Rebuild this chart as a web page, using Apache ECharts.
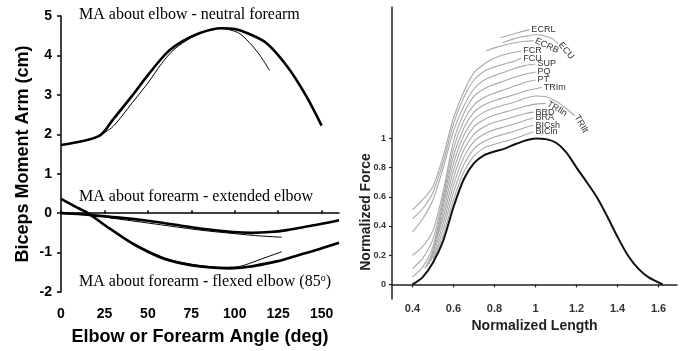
<!DOCTYPE html>
<html><head><meta charset="utf-8">
<script src="https://cdn.jsdelivr.net/npm/echarts@6/dist/echarts.min.js"></script>
<style>html,body{margin:0;padding:0;background:#fff}#c{width:686px;height:351px}</style>
</head><body><div id="c"></div>
<script>
// ---------- Left panel: biceps moment arm ----------
const angleTicks = [0, 25, 50, 75, 100, 125, 150];
const elbowThick = [[0,1.73],[22,1.96],[30,2.38],[41,2.98],[50,3.5],[61,4.07],[70,4.36],[80,4.57],[92,4.69],[100,4.67],[107,4.57],[118,4.32],[130,3.73],[141,2.98],[150,2.22]];
const elbowThin = [[22,1.96],[30,2.2],[41,2.8],[50,3.3],[58,3.8],[65,4.15],[75,4.45],[85,4.65],[91,4.69],[97,4.65],[103,4.55],[110,4.25],[115,3.97],[120,3.62]];
const extThick = [[0,0],[10,-0.02],[22,-0.07],[35,-0.12],[51,-0.2],[65,-0.29],[80,-0.39],[99,-0.48],[110,-0.5],[120,-0.48],[130,-0.43],[140,-0.35],[150,-0.27],[160,-0.18]];
const extThin = [[28,-0.12],[50,-0.25],[80,-0.43],[100,-0.52],[115,-0.58],[127,-0.61]];
const flexThick = [[0,0.36],[8,0.17],[15.5,0],[25,-0.3],[41,-0.77],[50,-0.98],[60,-1.17],[70,-1.28],[80,-1.35],[90,-1.39],[97,-1.4],[108,-1.36],[118,-1.28],[128,-1.18],[137,-1.06],[148,-0.92],[160,-0.75]];
const flexThin = [[28,-0.36],[41,-0.74],[60,-1.14],[80,-1.33],[95,-1.37],[103,-1.35],[110,-1.25],[118,-1.12],[127,-0.98]];

// ---------- Right panel: normalized force-length ----------
const lengthTicks = [0.4, 0.6, 0.8, 1, 1.2, 1.4, 1.6];
const forceTicks = [0, 0.2, 0.4, 0.6, 0.8, 1];
const activeCurve = [[0.4,0],[0.45,0.05],[0.5,0.15],[0.55,0.3],[0.6,0.53],[0.65,0.72],[0.7,0.83],[0.75,0.885],[0.8,0.91],[0.85,0.93],[0.9,0.96],[0.95,0.985],[1.0,1.0],[1.05,0.995],[1.1,0.97],[1.15,0.905],[1.2,0.8],[1.25,0.7],[1.3,0.595],[1.35,0.465],[1.4,0.325],[1.45,0.2],[1.5,0.11],[1.55,0.05],[1.62,0]];
const BICln = [[0.5,0.17],[0.55,0.34],[0.6,0.58],[0.65,0.77],[0.7,0.88],[0.75,0.935],[0.8,0.96],[0.85,0.98],[0.9,1.0],[0.95,1.025],[0.99,1.045]];
const BICsh = [[0.5,0.18],[0.55,0.38],[0.6,0.63],[0.65,0.82],[0.7,0.93],[0.75,0.98],[0.8,1.01],[0.85,1.03],[0.9,1.05],[0.95,1.075],[0.99,1.09]];
const BRA = [[0.49,0.16],[0.55,0.42],[0.6,0.68],[0.65,0.87],[0.7,0.98],[0.75,1.03],[0.8,1.06],[0.85,1.08],[0.9,1.1],[0.95,1.125],[0.99,1.14]];
const BRD = [[0.48,0.14],[0.55,0.46],[0.6,0.73],[0.65,0.92],[0.7,1.03],[0.75,1.08],[0.8,1.11],[0.85,1.13],[0.9,1.15],[0.95,1.17],[0.99,1.18]];
const TRIln = [[0.47,0.12],[0.5,0.22],[0.55,0.5],[0.6,0.78],[0.65,0.97],[0.7,1.08],[0.75,1.13],[0.8,1.16],[0.85,1.18],[0.9,1.2],[0.95,1.22],[1.0,1.235],[1.05,1.24]];
const TRIlt = [[0.46,0.11],[0.5,0.23],[0.55,0.54],[0.6,0.83],[0.65,1.02],[0.7,1.13],[0.75,1.18],[0.8,1.21],[0.85,1.23],[0.9,1.25],[0.95,1.275],[1.0,1.29],[1.05,1.285],[1.1,1.255],[1.15,1.205],[1.19,1.155]];
const TRIm = [[0.4,0.05],[0.45,0.12],[0.5,0.26],[0.55,0.57],[0.6,0.88],[0.65,1.07],[0.7,1.18],[0.75,1.23],[0.8,1.26],[0.85,1.28],[0.9,1.3],[0.95,1.325],[1.0,1.34],[1.03,1.35]];
const PT = [[0.4,0.11],[0.45,0.18],[0.5,0.31],[0.55,0.6],[0.6,0.93],[0.65,1.12],[0.7,1.23],[0.75,1.28],[0.8,1.31],[0.85,1.335],[0.9,1.36],[0.95,1.385],[1.0,1.4]];
const PQ = [[0.4,0.2],[0.45,0.26],[0.5,0.37],[0.55,0.64],[0.6,0.98],[0.65,1.17],[0.7,1.29],[0.75,1.34],[0.8,1.37],[0.85,1.395],[0.9,1.42],[0.95,1.44],[1.0,1.455]];
const SUP = [[0.4,0.36],[0.45,0.45],[0.5,0.58],[0.55,0.8],[0.6,1.05],[0.65,1.22],[0.7,1.34],[0.75,1.4],[0.8,1.43],[0.85,1.455],[0.9,1.48],[0.95,1.5],[1.0,1.51]];
const FCU = [[0.4,0.45],[0.45,0.52],[0.5,0.63],[0.55,0.84],[0.6,1.1],[0.65,1.28],[0.7,1.4],[0.75,1.46],[0.8,1.49],[0.85,1.51],[0.9,1.53],[0.93,1.55]];
const FCR = [[0.4,0.51],[0.45,0.58],[0.5,0.67],[0.55,0.88],[0.6,1.14],[0.65,1.32],[0.7,1.45],[0.75,1.51],[0.8,1.55],[0.85,1.575],[0.9,1.59],[0.93,1.6]];
const ECRB = [[0.76,1.6],[0.8,1.62],[0.85,1.64],[0.9,1.655],[0.95,1.665],[0.99,1.67]];
const ECU = [[0.84,1.655],[0.9,1.685],[0.95,1.7],[1.0,1.71],[1.05,1.7],[1.085,1.68],[1.11,1.65]];
const ECRL = [[0.83,1.69],[0.88,1.71],[0.93,1.73],[0.97,1.745]];

const muscles = [
  ['BICln', BICln, 0], ['BICsh', BICsh, 0], ['BRA', BRA, 0], ['BRD', BRD, 0],
  ['TRIln', TRIln, -30], ['TRIlt', TRIlt, -60], ['TRIm', TRIm, 0], ['PT', PT, 0],
  ['PQ', PQ, 0], ['SUP', SUP, 0], ['FCU', FCU, 0], ['FCR', FCR, 0],
  ['ECRB', ECRB, -25], ['ECU', ECU, -50], ['ECRL', ECRL, 0]
];

const SANS = 'Liberation Sans, Arial, sans-serif';
const SERIF = 'Liberation Serif, Times New Roman, serif';

function leftLine(data, w) {
  return { type: 'line', xAxisIndex: 0, yAxisIndex: 0, data: data, symbol: 'none',
    smooth: 0.3, lineStyle: { color: '#000', width: w }, silent: true };
}

const series = [
  leftLine(elbowThin, 1), leftLine(extThin, 1), leftLine(flexThin, 1),
  leftLine(elbowThick, 2.6), leftLine(extThick, 2.6), leftLine(flexThick, 2.6)
];
muscles.forEach(function (m) {
  series.push({ type: 'line', name: m[0], xAxisIndex: 1, yAxisIndex: 1, data: m[1], symbol: 'none',
    smooth: 0.3, lineStyle: { color: '#a8a8a8', width: 1.1 }, silent: true,
    endLabel: { show: true, formatter: function (p) { return p.seriesName; }, rotate: m[2],
      distance: 2, color: '#333', fontSize: 9, fontFamily: SANS } });
});
series.push({ type: 'line', xAxisIndex: 1, yAxisIndex: 1, data: activeCurve, symbol: 'none',
  smooth: 0.3, lineStyle: { color: '#111', width: 2 }, silent: true });

const chart = echarts.init(document.getElementById('c'), null, { renderer: 'canvas' });
chart.setOption({
  animation: false,
  backgroundColor: '#fff',
  grid: [
    { left: 61, top: 16, width: 278, height: 280 },
    { left: 392, top: 7, width: 285, height: 292 }
  ],
  xAxis: [
    { type: 'value', gridIndex: 0, min: 0, max: 160,
      name: 'Elbow or Forearm Angle (deg)', nameLocation: 'middle', nameGap: 36,
      nameTextStyle: { fontFamily: SANS, fontWeight: 'bold', fontSize: 18, color: '#000' },
      axisLine: { lineStyle: { color: '#000', width: 1.5 } },
      axisTick: { inside: true, length: 3, lineStyle: { color: '#000', width: 1.5 }, customValues: angleTicks },
      axisLabel: { customValues: angleTicks, margin: 15, fontFamily: SANS, fontWeight: 'bold', fontSize: 14, color: '#000' },
      splitLine: { show: false } },
    { type: 'value', gridIndex: 1, min: 0.3, max: 1.69,
      name: 'Normalized Length', nameLocation: 'middle', nameGap: 18,
      nameTextStyle: { fontFamily: SANS, fontWeight: 'bold', fontSize: 14, color: '#222' },
      axisLine: { lineStyle: { color: '#222', width: 1.5 } },
      axisTick: { length: 3, lineStyle: { color: '#222', width: 1.2 }, customValues: lengthTicks },
      axisLabel: { customValues: lengthTicks, margin: 4, fontFamily: SANS, fontWeight: 'bold', fontSize: 11, color: '#333' },
      splitLine: { show: false } }
  ],
  yAxis: [
    { type: 'value', gridIndex: 0, min: -2, max: 5, interval: 1,
      name: 'Biceps Moment Arm (cm)', nameLocation: 'middle', nameGap: 29,
      nameTextStyle: { fontFamily: SANS, fontWeight: 'bold', fontSize: 18, color: '#000' },
      axisLine: { lineStyle: { color: '#000', width: 1.5 } },
      axisTick: { length: 4, lineStyle: { color: '#000', width: 1.5 } },
      axisLabel: { margin: 9, fontFamily: SANS, fontWeight: 'bold', fontSize: 14, color: '#000' },
      splitLine: { show: false } },
    { type: 'value', gridIndex: 1, min: -0.1, max: 1.9,
      axisLine: { lineStyle: { color: '#222', width: 1.5 } },
      axisTick: { length: 3, lineStyle: { color: '#222', width: 1.2 }, customValues: forceTicks },
      axisLabel: { customValues: forceTicks, margin: 6, fontFamily: SANS, fontWeight: 'bold', fontSize: 9, color: '#333' },
      splitLine: { show: false } }
  ],
  graphic: [
    { type: 'text', x: 79, y: 15, silent: true,
      style: { text: 'MA about elbow - neutral forearm', font: '16px ' + SERIF, fill: '#000', verticalAlign: 'middle' } },
    { type: 'text', x: 79, y: 197, silent: true,
      style: { text: 'MA about forearm - extended elbow', font: '16px ' + SERIF, fill: '#000', verticalAlign: 'middle' } },
    { type: 'text', x: 79, y: 282, silent: true,
      style: { text: 'MA about forearm - flexed elbow (85{sup|o})', font: '16px ' + SERIF, fill: '#000', verticalAlign: 'middle',
        rich: { sup: { fontSize: 10, fontFamily: SERIF, verticalAlign: 'top', padding: [0, 0, 8, 0] } } } },
    { type: 'text', x: 366, y: 212, rotation: Math.PI / 2, silent: true,
      style: { text: 'Normalized Force', font: 'bold 14px ' + SANS, fill: '#222', align: 'center', verticalAlign: 'middle' } }
  ],
  series: series
});
</script>
</body></html>
